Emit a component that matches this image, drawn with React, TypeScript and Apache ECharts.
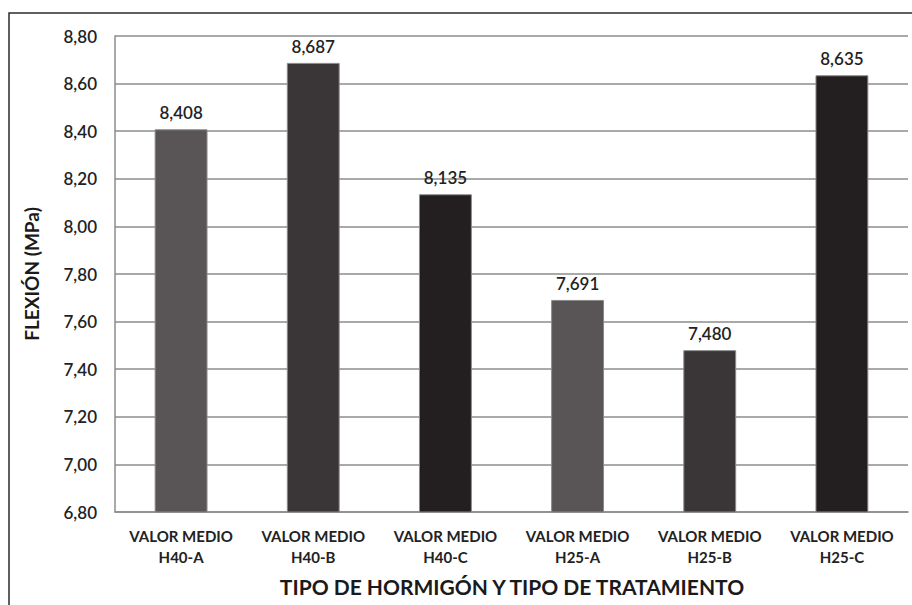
import React, { useEffect, useRef } from "react";
import * as echarts from "echarts";

const categories = [
  "VALOR MEDIO\nH40-A",
  "VALOR MEDIO\nH40-B",
  "VALOR MEDIO\nH40-C",
  "VALOR MEDIO\nH25-A",
  "VALOR MEDIO\nH25-B",
  "VALOR MEDIO\nH25-C",
];
const values = [8.408, 8.687, 8.135, 7.691, 7.48, 8.635];
const barColors = ["#595556", "#3a3536", "#231f20", "#595556", "#3a3536", "#231f20"];
const yTitle = "FLEXIÓN (MPa)";
const xTitle = "TIPO DE HORMIGÓN Y TIPO DE TRATAMIENTO";

const FONT = "Lato, 'Open Sans', sans-serif";

export default function App() {
  const ref = useRef<HTMLDivElement>(null);
  useEffect(() => {
    if (!ref.current) return;
    const chart = echarts.init(ref.current, undefined, { renderer: "svg" });
    chart.setOption({
      animation: false,
      backgroundColor: "#ffffff",
      textStyle: { fontFamily: FONT },
      grid: { left: 115, top: 36, right: 4, bottom: 93 },
      graphic: [
        {
          type: "polyline",
          shape: { points: [[9, 605], [9, 13], [912, 13]] },
          style: { stroke: "#2b2b2b", lineWidth: 1.5, fill: null },
          silent: true,
        },
        {
          type: "text",
          x: 512,
          y: 586,
          style: {
            text: xTitle,
            fontFamily: FONT,
            fontWeight: "bold",
            fontSize: 21,
            fill: "#1a1a1a",
            align: "center",
            verticalAlign: "middle",
          },
        },
      ],
      xAxis: {
        type: "category",
        data: categories,
        axisLine: { show: true, lineStyle: { color: "#8c8c8c", width: 1.5 } },
        axisTick: { show: false },
        axisLabel: {
          interval: 0,
          color: "#222",
          fontFamily: FONT,
          fontWeight: "bold",
          fontSize: 15,
          lineHeight: 21,
          margin: 13,
        },
      },
      yAxis: {
        type: "value",
        min: 6.8,
        max: 8.8,
        interval: 0.2,
        name: yTitle,
        nameLocation: "middle",
        nameGap: 74,
        nameTextStyle: {
          fontFamily: FONT,
          fontWeight: "bold",
          fontSize: 19,
          color: "#1a1a1a",
        },
        axisLine: { show: true, lineStyle: { color: "#8c8c8c", width: 1.5 } },
        axisTick: { show: false },
        splitLine: { show: true, lineStyle: { color: "#8c8c8c", width: 1.5 } },
        axisLabel: {
          color: "#222",
          fontFamily: FONT,
          fontWeight: 600,
          fontSize: 17,
          margin: 18,
          formatter: (v: number) => v.toFixed(2).replace(".", ","),
        },
      },
      series: [
        {
          type: "bar",
          barWidth: "40%",
          data: values.map((v, i) => ({
            value: v,
            itemStyle: { color: barColors[i], borderColor: "#8a8a8a", borderWidth: 1 },
          })),
          label: {
            show: true,
            position: "top",
            distance: 8,
            color: "#222",
            fontFamily: FONT,
            fontWeight: 600,
            fontSize: 17,
            formatter: (p: any) => p.value.toFixed(3).replace(".", ","),
          },
        },
      ],
    });
    return () => chart.dispose();
  }, []);
  return (
    <div
      ref={ref}
      style={{ position: "fixed", left: 0, top: 0, width: 912, height: 605 }}
    />
  );
}
